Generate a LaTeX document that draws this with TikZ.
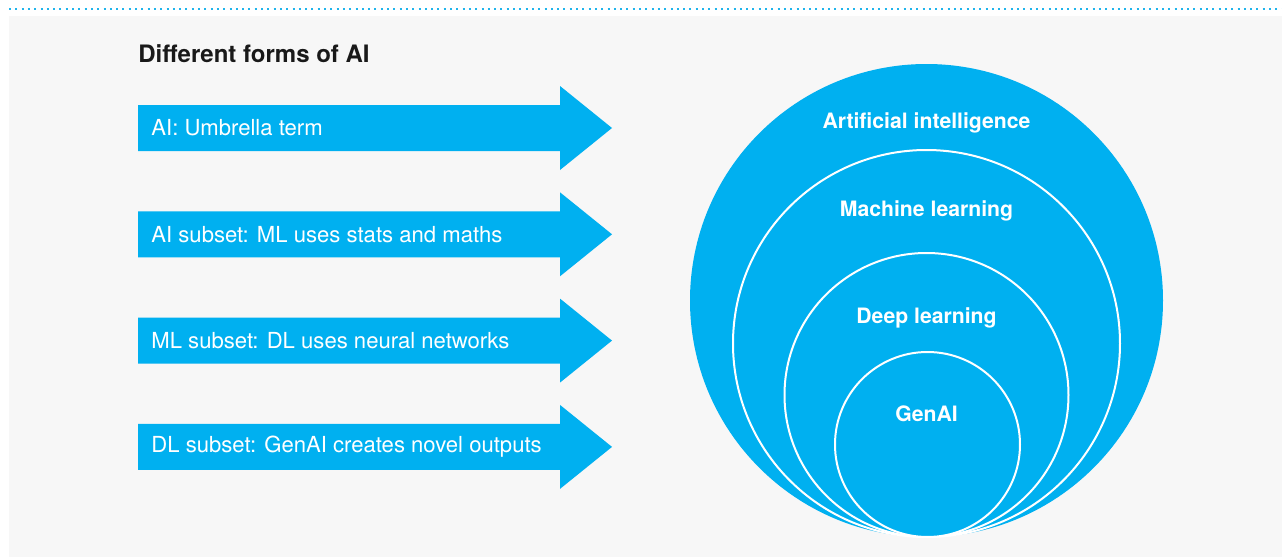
\documentclass[tikz,border=0pt]{standalone}
\usepackage{fontspec}
\setmainfont{TeX Gyre Heros}
\usetikzlibrary{positioning}
\definecolor{aiblue}{HTML}{00B0F0}
\definecolor{dotblue}{HTML}{1FB4EC}
\definecolor{panel}{HTML}{F7F7F7}
\tikzset{
  arrowtext/.style={anchor=west, text=white, font=\fontsize{11.05}{13}\selectfont, inner sep=0pt},
  ring/.style={circle, draw=white, line width=1pt, fill=aiblue, inner sep=0pt},
  ringlabel/.style={text=white, font=\fontsize{10.6}{12}\selectfont\bfseries}
}

\begin{document}
\begin{tikzpicture}[x=0.5pt,y=-0.5pt]
\useasboundingbox (0,0) rectangle (1282,557);
\fill[panel] (9,16) rectangle (1282,557);
\draw[dotblue, line width=1pt, dash pattern=on 1pt off 2.15pt] (9,9) -- (1282,9);
\node[anchor=base west, text=black!90, font=\fontsize{12}{14}\selectfont\bfseries, inner sep=0pt] (title) at (138,62) {Different forms of AI};

% arrows with their texts
\foreach \txt [count=\i from 0] in {AI: Umbrella term, AI subset: ML uses stats and maths, ML subset: DL uses neural networks, DL subset: GenAI creates novel outputs}{
  \pgfmathsetmacro\yy{128+106.3*\i}
  \fill[aiblue] (138,\yy-23) -- (560,\yy-23) -- (560,\yy-42) -- (612,\yy) -- (560,\yy+42) -- (560,\yy+23) -- (138,\yy+23) -- cycle;
  \node[arrowtext] (arr\i) at (151,\yy) {\txt};
}

% nested circles
\node[circle, fill=aiblue, minimum size=236.5pt, inner sep=0pt] (ai) at (926.5,300.5) {};
\node[ring, minimum size=193.5pt] (ml) at (926.5,343.5) {};
\node[ring, minimum size=142pt] (dl) at (926.5,395) {};
\node[ring, minimum size=92.5pt] (genai) at (927.5,444.5) {};

\node[ringlabel] (ailabel) at (926.5,123) {Artificial intelligence};
\node[ringlabel] (mllabel) at (926.5,211) {Machine learning};
\node[ringlabel] (dllabel) at (926.5,318) {Deep learning};
\node[ringlabel] (genailabel) at (926.5,414) {GenAI};
\end{tikzpicture}
\end{document}
